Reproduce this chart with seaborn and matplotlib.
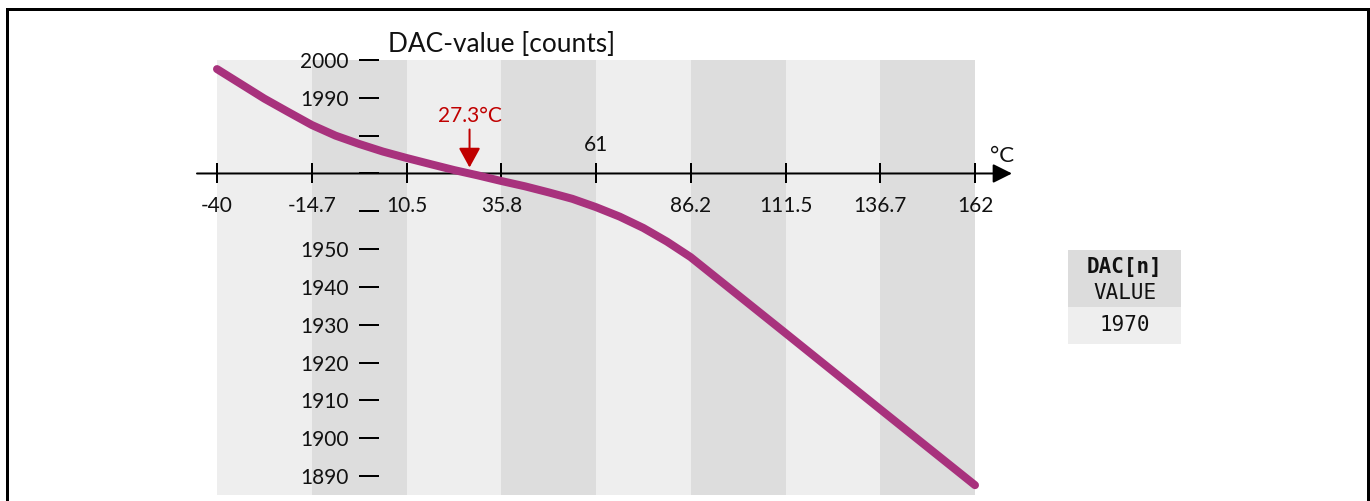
import matplotlib
matplotlib.use("Agg")
import matplotlib.pyplot as plt
import seaborn as sns
from matplotlib.patches import Rectangle
from matplotlib.lines import Line2D

# DAC code versus die temperature
temps_c = [-40, -33.7, -27.4, -21.1, -14.7, -8.4, -2.1, 4.2, 10.5, 16.8, 23.2, 29.5,
           35.8, 42.1, 48.4, 54.7, 61, 67.3, 73.6, 79.9, 86.2, 111.5, 136.7, 162]
dac_counts = [1997.6, 1993.7, 1989.8, 1986.3, 1982.8, 1980.0, 1977.8, 1975.8, 1974.1,
              1972.5, 1970.9, 1969.5, 1968.0, 1966.6, 1965.0, 1963.3, 1961.1, 1958.6,
              1955.6, 1952.0, 1947.9, 1927.8, 1907.7, 1887.6]

# temperature grid (tick positions and shaded bands)
band_edges = [-40, -14.7, 10.5, 35.8, 61, 86.2, 111.5, 136.7, 162]
x_tick_labels = ["-40", "-14.7", "10.5", "35.8", "61", "86.2", "111.5", "136.7", "162"]
band_colors = ["#eeeeee", "#dddddd"]

# count axis
y_ticks = [1890, 1900, 1910, 1920, 1930, 1940, 1950, 1960, 1970, 1980, 1990, 2000]
y_unlabeled = [1960, 1970, 1980]
x_axis_level = 1970

marker_temp = 27.3
marker_label = "27.3°C"

table_header = ["DAC[n]", "VALUE"]
table_value = "1970"

sns.set_theme(style="white")
plt.rcParams["font.family"] = ["Lato", "DejaVu Sans"]
plt.rcParams["axes.unicode_minus"] = False

W, H = 1370, 501
PT = 0.72  # points per pixel at 100 dpi
fig = plt.figure(figsize=(W / 100, H / 100), dpi=100)
fig.patch.set_facecolor("white")
ax = fig.add_axes([217 / W, 6 / H, 758 / W, 435 / H])
ax.set_facecolor("white")
ax.set_xlim(band_edges[0], band_edges[-1])
ax.set_ylim(1885, 2000)

# alternating temperature bands
for i, (a, b) in enumerate(zip(band_edges[:-1], band_edges[1:])):
    ax.axvspan(a, b, color=band_colors[i % 2], lw=0, zorder=0)

sns.lineplot(x=temps_c, y=dac_counts, ax=ax, color="#a8327d", lw=8 * PT, sort=False,
             solid_capstyle="round", solid_joinstyle="round", clip_on=False, zorder=4)

for s in ax.spines.values():
    s.set_visible(False)
ax.spines["left"].set_position(("data", 0.5))
ax.spines["bottom"].set_position(("data", x_axis_level))

ax.set_xticks(band_edges)
ax.set_xticklabels(["" if t == "61" else t for t in x_tick_labels])
ax.set_yticks(y_ticks)
ax.set_yticklabels(["" if v in y_unlabeled else str(v) for v in y_ticks])
ax.tick_params(axis="x", direction="inout", length=20 * PT, width=2 * PT, color="black",
               pad=9, labelsize=15, bottom=True, labelcolor="#111111")
ax.tick_params(axis="y", direction="inout", length=20 * PT, width=2 * PT, color="black",
               pad=10 * PT, labelsize=15, left=True, labelcolor="#111111")
ax.set_xlabel("")
ax.set_ylabel("")
ax.grid(False)

# horizontal temperature axis with arrow head
ax.annotate("", xy=(1.0488, x_axis_level), xytext=(-0.0264, x_axis_level),
            xycoords=("axes fraction", "data"), textcoords=("axes fraction", "data"),
            arrowprops=dict(arrowstyle="-|>,head_length=0.4,head_width=0.2", mutation_scale=29,
                            lw=2 * PT, color="black", shrinkA=0, shrinkB=0),
            annotation_clip=False, zorder=3)

# the 61 label sits above the axis
ax.annotate(x_tick_labels[4], xy=(band_edges[4], x_axis_level), xytext=(0, 28 * PT),
            textcoords="offset points", ha="center", va="center", fontsize=15, color="#111111")
ax.annotate("°C", xy=(band_edges[-1], x_axis_level), xytext=(27 * PT, 17 * PT),
            textcoords="offset points", ha="center", va="center", fontsize=16, color="#111111",
            annotation_clip=False)

# marker for the temperature at the current DAC value
red = "#c00000"
ax.annotate("", xy=(marker_temp, x_axis_level), xytext=(0, 44 * PT), textcoords="offset points",
            arrowprops=dict(arrowstyle="-|>,head_length=0.4,head_width=0.22", mutation_scale=30,
                            lw=2 * PT, color=red, shrinkA=0, shrinkB=6 * PT), zorder=5)
ax.annotate(marker_label, xy=(marker_temp, x_axis_level), xytext=(0, 57 * PT),
            textcoords="offset points", ha="center", va="center", fontsize=15, color=red)

fig.text(388 / W, 1 - 44 / H, "DAC-value [counts]", ha="left", va="center", fontsize=18.9,
         color="#111111")

# register readout box
fig.add_artist(Rectangle((1068 / W, 1 - 307 / H), 113 / W, 57 / H, transform=fig.transFigure,
                         facecolor="#dcdcdc", edgecolor="none"))
fig.add_artist(Rectangle((1068 / W, 1 - 344 / H), 113 / W, 37 / H, transform=fig.transFigure,
                         facecolor="#eeeeee", edgecolor="none"))
mono = ["DejaVu Sans Mono"]
fig.text(1124.5 / W, 1 - 267 / H, table_header[0], ha="center", va="center", fontsize=15,
         family=mono, weight="bold", color="#111111")
fig.text(1124.5 / W, 1 - 293 / H, table_header[1], ha="center", va="center", fontsize=15,
         family=mono, color="#111111")
fig.text(1124.5 / W, 1 - 325 / H, table_value, ha="center", va="center", fontsize=15,
         family=mono, color="#111111")

# outer frame
fig.add_artist(Line2D([7 / W, 7 / W, 1367.5 / W, 1367.5 / W], [0, 1 - 9 / H, 1 - 9 / H, 0],
                      transform=fig.transFigure, color="black", lw=3 * PT,
                      solid_joinstyle="miter"))

fig.savefig("out.png", dpi=100, facecolor="white")
